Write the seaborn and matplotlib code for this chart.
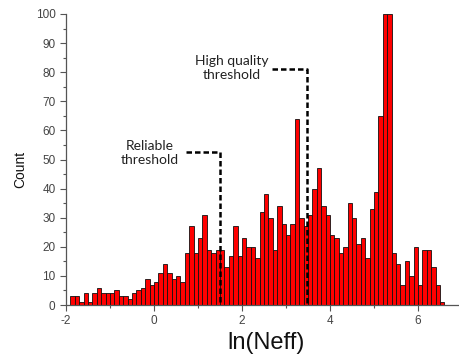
import numpy as np
import pandas as pd
import matplotlib
matplotlib.use("Agg")
import matplotlib.pyplot as plt
from matplotlib.ticker import MultipleLocator
import seaborn as sns

# ---- data ----
bin_start = -1.9
bin_width = 0.1
counts = [3, 3, 1, 4, 1, 4, 6, 4, 4, 4, 5, 3, 3, 2, 4, 5, 6, 9, 7,
          8, 11, 14, 11, 9, 10, 8, 18, 27, 18, 23, 31, 19, 18, 19, 19, 13, 17, 27, 17,
          23, 20, 20, 16, 32, 38, 30, 19, 34, 28, 24, 28, 64, 30, 27, 31, 40, 47, 34, 31,
          24, 23, 18, 20, 35, 30, 21, 23, 16, 33, 39, 65, 100, 100, 18, 14, 7, 15, 10, 20,
          7, 19, 19, 13, 7, 1]
x_ticks = [-2, 0, 2, 4, 6]
y_ticks = [0, 10, 20, 30, 40, 50, 60, 70, 80, 90, 100]
reliable_x = 1.5
reliable_text = "Reliable\nthreshold"
hq_x = 3.47
hq_text = "High quality\nthreshold"

n = len(counts)
centers = bin_start + bin_width * (np.arange(n) + 0.5)
df = pd.DataFrame({"lnNeff": centers, "count": counts})

sns.set_style("ticks")
plt.rcParams["font.family"] = ["Liberation Sans", "DejaVu Sans"]

fig = plt.figure(figsize=(4.59, 3.55), dpi=100)
ax = fig.add_axes([0.1438, 0.1408, 0.855, 0.8198])

sns.histplot(data=df, x="lnNeff", weights="count", binwidth=bin_width,
             binrange=(bin_start, bin_start + bin_width * n), ax=ax,
             color="#ff0000", edgecolor="#111111", linewidth=0.6, alpha=1.0)

ax.set_xlim(-2, 6.92)
ax.set_ylim(0, 100)
ax.set_xticks(x_ticks)
ax.set_yticks(y_ticks)
ax.set_xticklabels([str(t) for t in x_ticks])
ax.xaxis.set_minor_locator(MultipleLocator(1))
ax.yaxis.set_minor_locator(MultipleLocator(5))
ax.tick_params(axis="both", which="major", direction="out", length=4.5, width=0.8,
               colors="#555555", labelsize=8.5, labelcolor="#444444", pad=3)
ax.tick_params(axis="both", which="minor", direction="out", length=2.5, width=0.8,
               colors="#555555")
for s in ["top", "right"]:
    ax.spines[s].set_visible(False)
for s in ["left", "bottom"]:
    ax.spines[s].set_color("#555555")
    ax.spines[s].set_linewidth(0.9)

ax.set_xlabel("ln(Neff)", fontsize=17, color="#111111")
ax.xaxis.set_label_coords(0.51, -0.092)
ax.set_ylabel("Count", fontsize=10, color="#111111")
ax.yaxis.set_label_coords(-0.099, 0.467)

dash = dict(color="black", linewidth=1.8, linestyle=(0, (2.2, 1.2)), zorder=5)
txt = dict(ha="center", va="center", fontsize=10, family=["Lato", "DejaVu Sans"],
           color="#222222", linespacing=1.2)
# reliable threshold
ax.plot([0.72, reliable_x, reliable_x], [52.7, 52.7, 0], **dash)
ax.text(-0.10, 52.2, reliable_text, **txt)
# high quality threshold
ax.plot([2.68, hq_x, hq_x], [81.1, 81.1, 0], **dash)
ax.text(1.76, 81.6, hq_text, **txt)

fig.savefig("out.png", dpi=100)
